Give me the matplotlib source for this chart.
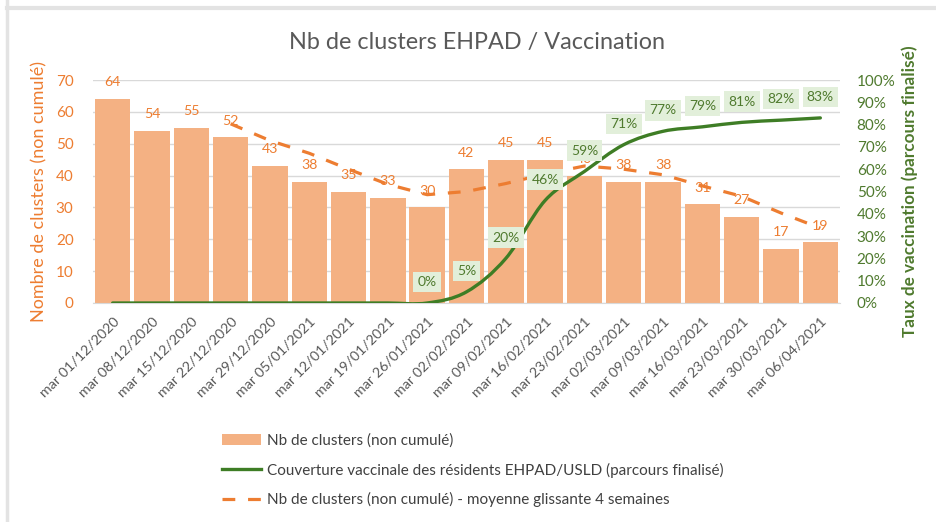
import matplotlib
matplotlib.use("Agg")
import matplotlib.pyplot as plt
from matplotlib.path import Path
from matplotlib.patches import PathPatch, Rectangle
from matplotlib.lines import Line2D
import numpy as np

plt.rcParams['font.family'] = ['Lato', 'DejaVu Sans']

dates = ["mar 01/12/2020", "mar 08/12/2020", "mar 15/12/2020", "mar 22/12/2020",
         "mar 29/12/2020", "mar 05/01/2021", "mar 12/01/2021", "mar 19/01/2021",
         "mar 26/01/2021", "mar 02/02/2021", "mar 09/02/2021", "mar 16/02/2021",
         "mar 23/02/2021", "mar 02/03/2021", "mar 09/03/2021", "mar 16/03/2021",
         "mar 23/03/2021", "mar 30/03/2021", "mar 06/04/2021"]
clusters = [64, 54, 55, 52, 43, 38, 35, 33, 30, 42, 45, 45, 40, 38, 38, 31, 27, 17, 19]
moy_gliss = [None, None, None, 56.25, 51.0, 47.0, 42.0, 37.25, 34.0, 35.0, 37.5,
             40.5, 43.0, 42.0, 40.25, 36.75, 33.5, 28.25, 23.5]
couverture = [0, 0, 0, 0, 0, 0, 0, 0, 0.0, 0.05, 0.20, 0.46, 0.59, 0.71, 0.77,
              0.79, 0.81, 0.82, 0.83]
couv_labels = [None] * 8 + ["0%", "5%", "20%", "46%", "59%", "71%", "77%", "79%",
                            "81%", "82%", "83%"]

ORANGE = "#ED7D31"
BAR = "#F4B183"
GREEN = "#3E7D25"
GREEN_TXT = "#4F7A2E"
GRAY = "#595959"

fig = plt.figure(figsize=(9.36, 5.22), dpi=100)
ax = fig.add_axes([93/936, 1-303/522, (840-93)/936, (303-80)/522])
ax2 = ax.twinx()

x = np.arange(len(dates))
ax.bar(x, clusters, width=0.9, color=BAR, zorder=2)
ax.set_xlim(-0.5, len(dates)-0.5)
ax.set_ylim(0, 70)
ax.set_yticks(range(0, 71, 10))
ax.grid(axis='y', color='#d9d9d9', lw=1, zorder=0)
ax.set_axisbelow(True)
for s in ['top', 'right', 'left']:
    ax.spines[s].set_visible(False)
ax.spines['bottom'].set_color('#d9d9d9')
ax.tick_params(axis='y', length=0, colors=ORANGE, labelsize=11, pad=14)
ax.tick_params(axis='x', length=0, colors=GRAY, labelsize=10.3, pad=9)
ax.set_xticks(x)
ax.set_xticklabels(dates, rotation=45, ha='right', rotation_mode='anchor')
ax.set_ylabel("Nombre de clusters (non cumulé)", color=ORANGE, fontsize=13, labelpad=6)

for xi, v in zip(x, clusters):
    ax.annotate(str(v), (xi, v), xytext=(0, 12), textcoords='offset points',
                ha='center', va='center', color=ORANGE, fontsize=10.2, zorder=3)

mx = [xi for xi, v in zip(x, moy_gliss) if v is not None]
my = [v for v in moy_gliss if v is not None]
ax.plot(mx, my, color=ORANGE, lw=2.3, ls=(0, (4, 4)), zorder=4)

# secondary axis
ax2.set_ylim(0, 1.0)
ax2.set_yticks(np.arange(0, 1.01, 0.1))
ax2.set_yticklabels([f"{int(round(t*100))}%" for t in np.arange(0, 1.01, 0.1)])
ax2.tick_params(axis='y', length=0, colors=GREEN_TXT, labelsize=11, pad=12)
for s in ax2.spines.values():
    s.set_visible(False)
ax2.set_ylabel("Taux de vaccination (parcours finalisé)", color=GREEN_TXT,
               fontsize=12.3, fontweight='bold', labelpad=4)

# smooth line (Catmull-Rom rendered as Bezier)
P = np.column_stack([x, couverture]).astype(float)
verts = [P[0]]
codes = [Path.MOVETO]
n = len(P)
for i in range(n-1):
    p0 = P[i-1] if i > 0 else P[i]
    p1 = P[i]
    p2 = P[i+1]
    p3 = P[i+2] if i+2 < n else P[i+1]
    c1 = p1 + (p2 - p0) / 6
    c2 = p2 - (p3 - p1) / 6
    verts += [c1, c2, p2]
    codes += [Path.CURVE4]*3
ax2.add_patch(PathPatch(Path(verts, codes), fc='none', ec=GREEN, lw=2.4,
                        capstyle='round', zorder=5))

for xi, v, lab in zip(x, couverture, couv_labels):
    if lab is None:
        continue
    ax2.annotate(lab, (xi, v), xytext=(0, 15), textcoords='offset points',
                 ha='center', va='center', color=GREEN_TXT, fontsize=10, zorder=6,
                 bbox=dict(boxstyle='square,pad=0.3', fc='#E2EFDA', ec='none'))

fig.text(477/936, 1-42/522, "Nb de clusters EHPAD / Vaccination", ha='center',
         va='center', color=GRAY, fontsize=16.8)

handles = [Rectangle((0, 0), 1, 1, fc=BAR, ec='none'),
           Line2D([], [], color=GREEN, lw=2.4),
           Line2D([], [], color=ORANGE, lw=2.3, ls=(0, (4, 4)))]
labels = ["Nb de clusters (non cumulé)",
          "Couverture vaccinale des résidents EHPAD/USLD (parcours finalisé)",
          "Nb de clusters (non cumulé) - moyenne glissante 4 semaines"]
leg = fig.legend(handles, labels, loc='upper left', bbox_to_anchor=(214/936, 1-426/522),
                 frameon=False, fontsize=11, labelspacing=0.95, handlelength=2.6,
                 handletextpad=0.4, borderpad=0)
for t in leg.get_texts():
    t.set_color('#404040')

# outer frame lines
fig.add_artist(Line2D([7/936, 7/936], [0, 1], color='#e3e3e3', lw=2.5,
                      transform=fig.transFigure))
fig.add_artist(Line2D([7/936, 1], [1-8/522, 1-8/522], color='#e3e3e3', lw=3,
                      transform=fig.transFigure))

fig.savefig("out.png", dpi=100)
